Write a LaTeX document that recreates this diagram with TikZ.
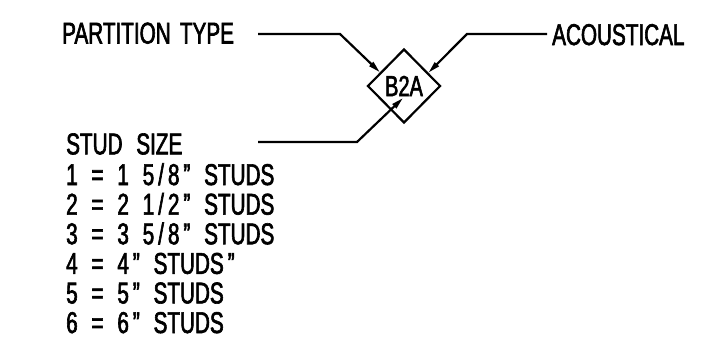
\documentclass[tikz,border=0pt]{standalone}
\usepackage{fontspec}
\setmainfont[FakeStretch=0.69,WordSpace=1.6,FakeBold=2]{Liberation Sans}
\newfontfamily\listfont[FakeStretch=0.69,WordSpace=2.4,FakeBold=2]{Liberation Sans}
\newcommand\qq{\kern4pt”}
\newcommand\sla{\kern4pt/\kern4pt}
\usetikzlibrary{shapes.geometric,arrows.meta,calc}
\begin{document}
\begin{tikzpicture}[x=1pt,y=-1pt,
  lbl/.style={anchor=base west,inner sep=0pt,font=\fontsize{30}{30}\selectfont},
  lst/.style={lbl,font=\listfont\fontsize{30}{30}\selectfont},
  conn/.style={line width=2.2pt,-{Stealth[length=12pt,width=5.5pt,inset=0pt]}},
  tag/.style={draw,line width=2.2pt,shape=diamond,minimum width=73pt,minimum height=74pt,inner sep=0pt,font=\fontsize{29}{29}\selectfont}]
\useasboundingbox (0,0) rectangle (718,362);
\fill[white] (0,0) rectangle (718,362);
\node[tag] (d) at (404,86) {B2A};
\node[lbl] (pt) at (62,43.5) {PARTITION TYPE};
\node[lbl] (ac) at (552,45) {ACOUSTICAL};
\node[lst] (s0) at (66,154.3) {STUD SIZE};
\node[lst] (s1) at (66,185) {1 = 1 5\sla 8\qq\ STUDS};
\node[lst] (s2) at (66,214.6) {2 = 2 1\sla 2\qq\ STUDS};
\node[lst] (s3) at (66,244.2) {3 = 3 5\sla 8\qq\ STUDS};
\node[lst] (s4) at (66,273.8) {4 = 4\qq\ STUDS\qq};
\node[lst] (s5) at (66,303.4) {5 = 5\qq\ STUDS};
\node[lst] (s6) at (66,333) {6 = 6\qq\ STUDS};
\coordinate (ptend) at (258,34);
\coordinate (acend) at (547,34);
\coordinate (ssend) at (258,142);
\draw[conn] (ptend) -- (340,34) -- ($(d.west)!0.36!(d.north)$);
\draw[conn] (acend) -- (467,34) -- ($(d.north)!0.65!(d.east)$);
\draw[conn] (ssend) -- (357,142) -- ($(d.center)+(-1,12)$);
\end{tikzpicture}
\end{document}
